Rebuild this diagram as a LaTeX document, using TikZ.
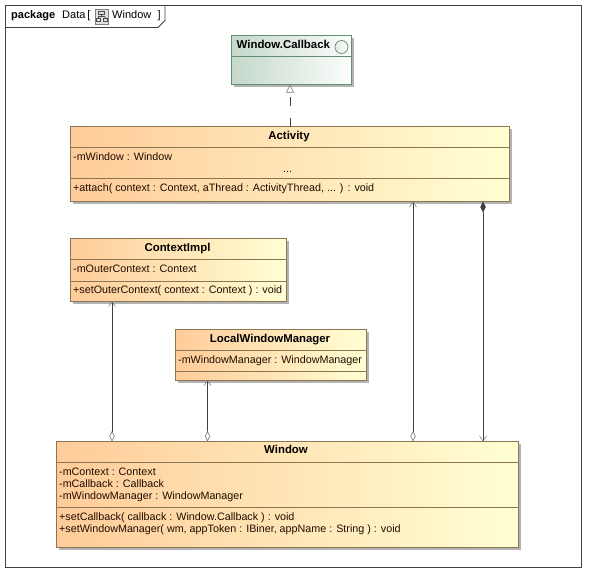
\documentclass[tikz,border=0pt]{standalone}
\usepackage{fontspec}
\setmainfont{Liberation Sans}
\usetikzlibrary{arrows.meta,backgrounds}
\definecolor{linec}{HTML}{404040}
\definecolor{framec}{HTML}{404040}
\definecolor{orangeL}{HTML}{FFCC99}
\definecolor{orangeR}{HTML}{FFFFD4}
\definecolor{brownc}{HTML}{8A7650}
\definecolor{greenL}{HTML}{C4D8CB}
\definecolor{greenR}{HTML}{FCFDFC}
\definecolor{greenc}{HTML}{5F8F70}
\definecolor{shadowc}{HTML}{B4B4B4}
\definecolor{textc}{HTML}{200C00}
\tikzset{
  x=1pt,y=-1pt,
  umlbox/.style={rectangle,inner sep=0pt,outer sep=0pt,line width=0.9pt},
  classbox/.style={umlbox,draw=brownc,left color=orangeL,right color=orangeR},
  ifacebox/.style={umlbox,draw=greenc,left color=greenL,right color=greenR},
  titletext/.style={anchor=base,inner sep=0pt,font=\fontsize{11.4}{13}\selectfont\bfseries,text=black},
  membertext/.style={anchor=base west,inner sep=0pt,font=\fontsize{10.75}{13}\selectfont,text=textc},
  tabtext/.style={anchor=base west,inner sep=0pt,font=\fontsize{11}{13}\selectfont,text=black},
  conn/.style={draw=linec,line width=0.8pt},
  opendiamond/.tip={Diamond[open,length=10.5pt,width=5.5pt,line width=0.7pt,color=gray]},
  soliddiamond/.tip={Diamond[length=11pt,width=5.5pt,color=linec]},
  barbhead/.tip={Straight Barb[length=5pt,width=7pt,line width=0.6pt,color=gray]},
}
% name, x0, y0, x1, y1, style
\newcommand{\umlrect}[6]{%
  \node[#6,minimum width=#4-#2,minimum height=#5-#3] (#1) at ({(#2+#4)/2},{(#3+#5)/2}) {};
  \begin{scope}[on background layer]
    \fill[shadowc] (#2+2.5,#3+2.5) rectangle (#4+2.5,#5+2.5);
  \end{scope}
}
\begin{document}
\begin{tikzpicture}
\useasboundingbox (0,0) rectangle (596,582);
\begin{scope}[on background layer]
  \fill[white] (0,0) rectangle (596,582);
\end{scope}
% frame
\node[rectangle,draw=framec,line width=0.8pt,inner sep=0,outer sep=0,minimum width=576,minimum height=562] (frame) at (293.5,286) {};
\draw[draw=framec,line width=0.8pt] (5.5,27.5) -- (158,27.5) -- (165,20.5) -- (165,5);
\node[tabtext,font=\fontsize{11}{13}\selectfont\bfseries] (pk) at (11,18) {package};
\node[tabtext] (data) at (62,18) {Data\hspace{-1pt} [};
% icon
\node[rectangle,draw=gray,fill=black!12,line width=0.6pt,inner sep=0,minimum width=13,minimum height=15] (icon) at (101.5,16.5) {};
\draw[black!70,line width=0.5pt] (98.5,11.5) rectangle (104.5,14.5) (101.5,14.5) -- (101.5,16.5) (98,16.5) -- (105,16.5) (98,16.5) -- (98,18) (105,16.5) -- (105,18) (96,18) rectangle (100,21.5) (103,18) rectangle (107,21.5);
\node[tabtext] (wname) at (112,18) {Window};
\node[tabtext] (brk) at (157.5,18) {]};
% Window.Callback
\umlrect{callback}{231.5}{35.5}{351}{84.5}{ifacebox}
\draw[greenc,line width=0.9pt] (231.5,56) -- (351,56);
\node[titletext,anchor=base west] (cbt) at (236.5,48) {Window.Callback};
\node[circle,draw=greenc,line width=0.7pt,left color=greenL!50,right color=white,minimum size=13,inner sep=0] (cbc) at (341.5,47) {};
% Activity
\umlrect{activity}{70.5}{126.5}{509.5}{201.5}{classbox}
\draw[brownc,line width=0.9pt] (70.5,147) -- (509.5,147) (70.5,178) -- (509.5,178);
\node[titletext] (att) at (289,139) {Activity};
\node[membertext] (a1) at (73,160) {-mWindow : Window};
\node[membertext,anchor=base] (a2) at (287.5,172) {...};
\node[membertext] (a3) at (73,191) {+attach( context : Context, aThread : ActivityThread, ... ) : void};
% ContextImpl
\umlrect{ctx}{70.5}{238.5}{286.5}{301}{classbox}
\draw[brownc,line width=0.9pt] (70.5,259.5) -- (286.5,259.5) (70.5,281) -- (286.5,281);
\node[titletext] (ctxt) at (177.5,251) {ContextImpl};
\node[membertext] (c1) at (73,272) {-mOuterContext : Context};
\node[membertext] (c2) at (73,293) {+setOuterContext( context : Context ) : void};
% LocalWindowManager
\umlrect{lwm}{175.5}{329.5}{366.5}{380}{classbox}
\draw[brownc,line width=0.9pt] (175.5,350) -- (366.5,350) (175.5,371) -- (366.5,371);
\node[titletext] (lwmt) at (270,342) {LocalWindowManager};
\node[membertext] (l1) at (178,363) {-mWindowManager : WindowManager};
% Window
\umlrect{win}{56.5}{441.5}{518.5}{547}{classbox}
\draw[brownc,line width=0.9pt] (56.5,462) -- (518.5,462) (56.5,507) -- (518.5,507);
\node[titletext] (wint) at (286,453) {Window};
\node[membertext] (w1) at (59,475) {-mContext : Context};
\node[membertext] (w2) at (59,487) {-mCallback : Callback};
\node[membertext] (w3) at (59,499) {-mWindowManager : WindowManager};
\node[membertext] (w4) at (59,520) {+setCallback( callback : Window.Callback ) : void};
\node[membertext] (w5) at (59,532) {+setWindowManager( wm, appToken : IBiner, appName : String ) : void};
% connectors
\draw[conn,dash pattern=on 9pt off 12pt,-{Triangle[open,length=8pt,width=8pt,line width=0.6pt,color=gray]}]
  (activity.north) -- ([xshift=-1.25pt]callback.south);
\draw[conn,opendiamond-barbhead] ([xshift=-175.5pt]win.north) -- ([xshift=-66.5pt]ctx.south);
\draw[conn,opendiamond-barbhead] ([xshift=-80pt]win.north) -- ([xshift=-63.5pt]lwm.south);
\draw[conn,opendiamond-barbhead] ([xshift=125.5pt]win.north) -- ([xshift=123pt]activity.south);
\draw[conn,soliddiamond-barbhead] ([xshift=193pt]activity.south) -- ([xshift=195.5pt]win.north);
\end{tikzpicture}
\end{document}
